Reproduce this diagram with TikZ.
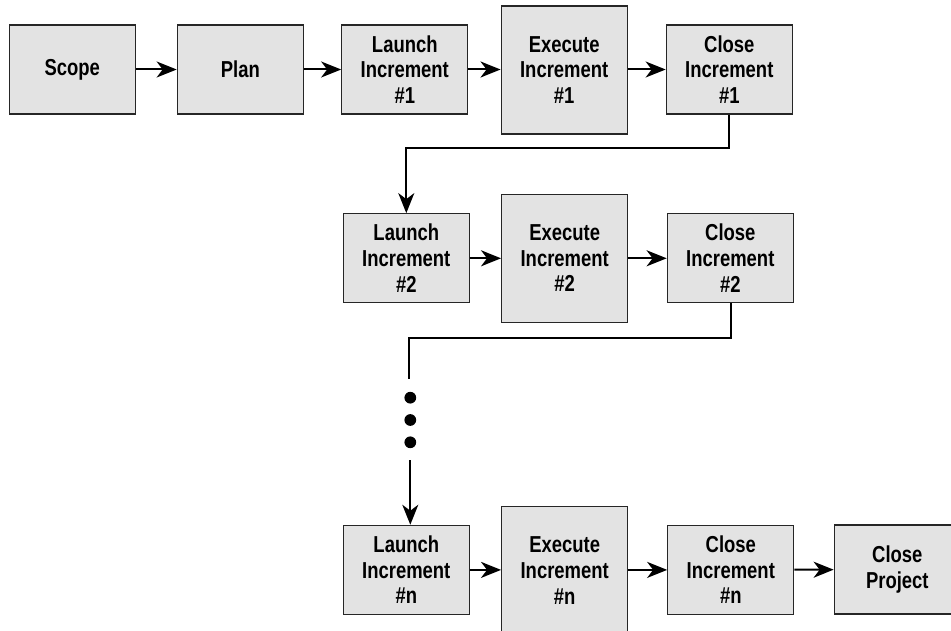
\documentclass[tikz,border=0pt]{standalone}
\usepackage{fontspec}
\setmainfont{Liberation Sans}[FakeStretch=0.8]
\usetikzlibrary{arrows.meta}
\begin{document}
\begin{tikzpicture}[x=0.75pt,y=-0.75pt,
  box/.style={draw=black!85,line width=1pt,fill=black!11,minimum width=94.5pt,minimum height=66.75pt,
    align=center,inner sep=0pt,font=\fontsize{17.3}{19.3}\selectfont\bfseries},
  tall/.style={box,minimum height=96pt},
  conn/.style={line width=1.5pt,-{Stealth[length=15pt,width=12pt,inset=4.5pt]}},
  plain/.style={line width=1.5pt},
  dot/.style={circle,fill=black,inner sep=0pt,minimum size=8.8pt}]
\clip (0,0) rectangle (951,631);
\fill[white] (0,0) rectangle (951,631);
% row 1
\node[box] (scope) at (72.3,69.5) {Scope};
\node[box] (plan) at (240.3,69.5) {Plan};
\node[box] (l1) at (404.8,69.5) {Launch\\Increment\\\#1};
\node[tall] (e1) at (564.2,70) {Execute\\Increment\\\#1};
\node[box] (c1) at (729.3,69.5) {Close\\Increment\\\#1};
% row 2
\node[box] (l2) at (406.3,258.3) {Launch\\Increment\\\#2};
\node[tall] (e2) at (564.7,258.3) {Execute\\Increment\\\#2};
\node[box] (c2) at (730.3,258.3) {Close\\Increment\\\#2};
% row 3
\node[box] (ln) at (406.3,569.9) {Launch\\Increment\\\#n};
\node[tall] (en) at (564.7,570.7) {Execute\\Increment\\\#n};
\node[box] (cn) at (730.8,569.9) {Close\\Increment\\\#n};
\node[box] (cp) at (897.3,569.5) {Close\\Project};
% dots
\node[dot] (d1) at (410.3,397.7) {};
\node[dot] (d2) at (410.3,420) {};
\node[dot] (d3) at (410.3,442.3) {};
\coordinate (dtop) at (409.3,379.3);
\coordinate (dbot) at (410.3,460);
\coordinate (h1) at (729.3,147.7);
\coordinate (h2) at (731,338.3);
% connectors
\draw[conn] (scope) -- (plan);
\draw[conn] (plan) -- (l1);
\draw[conn] (l1) -- (e1.west |- l1);
\draw[conn] (e1.east |- c1) -- (c1);
\draw[conn] (c1.south) -- (h1) -| (l2.north);
\draw[conn] (l2) -- (e2.west |- l2);
\draw[conn] (e2.east |- c2) -- (c2);
\draw[plain] (c2.south -| h2) -- (h2) -| (dtop);
\draw[conn] (dbot) -- (dbot |- ln.north);
\draw[conn] (ln) -- (en.west |- ln);
\draw[conn] (en.east |- cn) -- (cn);
\draw[conn] (cn) -- (cp);
\end{tikzpicture}
\end{document}
